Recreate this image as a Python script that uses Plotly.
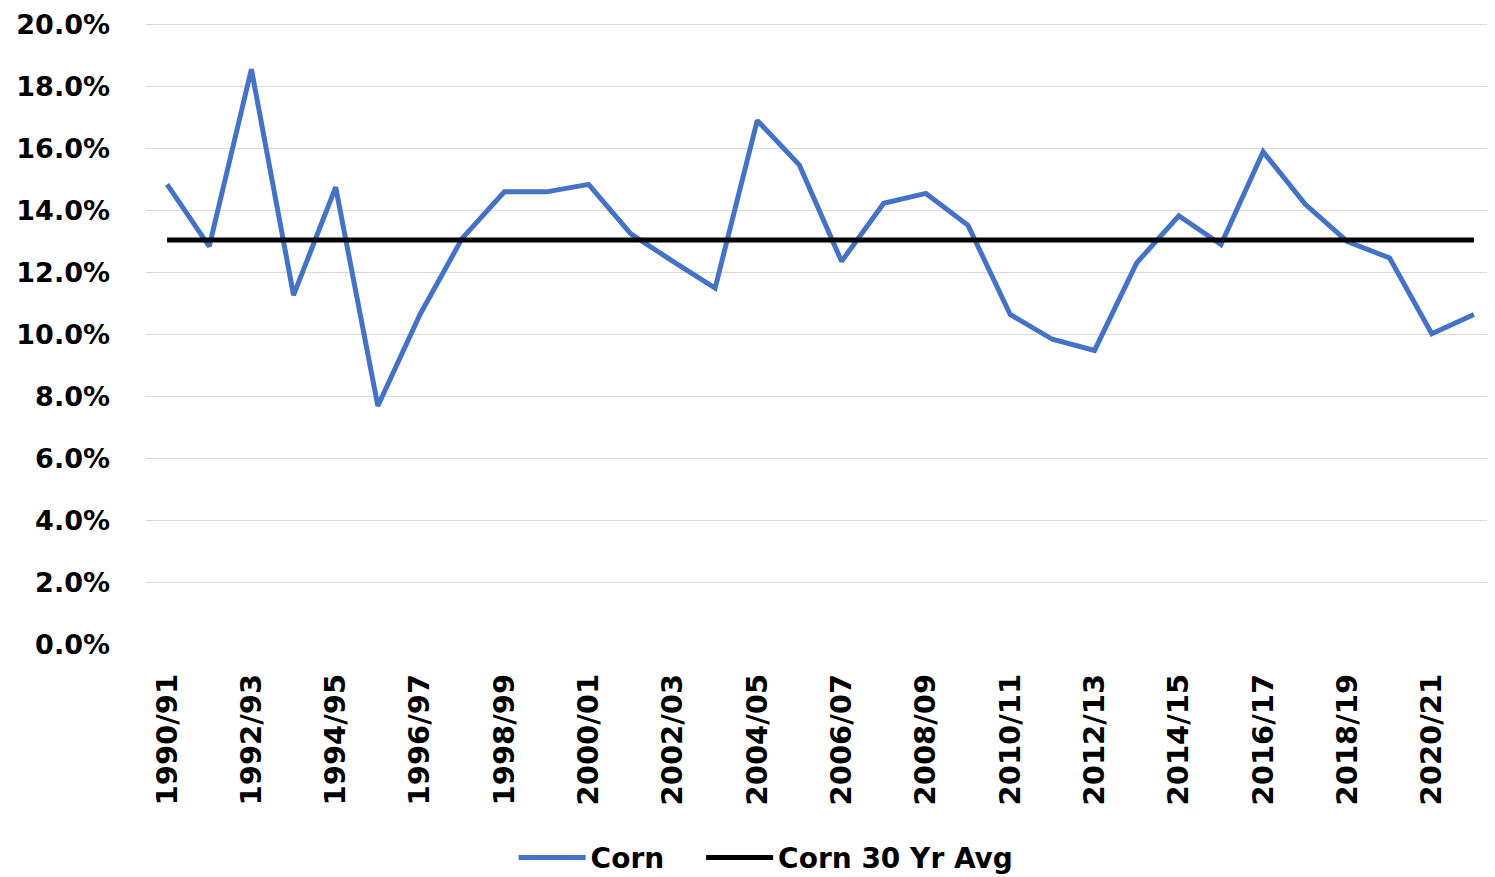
import plotly.graph_objects as go

years = ["1990/91", "1991/92", "1992/93", "1993/94", "1994/95", "1995/96", "1996/97", "1997/98",
         "1998/99", "1999/00", "2000/01", "2001/02", "2002/03", "2003/04", "2004/05", "2005/06",
         "2006/07", "2007/08", "2008/09", "2009/10", "2010/11", "2011/12", "2012/13", "2013/14",
         "2014/15", "2015/16", "2016/17", "2017/18", "2018/19", "2019/20", "2020/21", "2021/22"]

corn = [14.84, 12.84, 18.55, 11.27, 14.75, 7.70, 10.65, 13.10,
        14.60, 14.60, 14.84, 13.25, 12.36, 11.50, 16.90, 15.46,
        12.36, 14.23, 14.55, 13.52, 10.65, 9.85, 9.49, 12.31,
        13.83, 12.90, 15.89, 14.20, 13.00, 12.47, 10.03, 10.65]
corn = [v / 100 for v in corn]

avg_30yr = [0.1305] * len(years)

tick_labels = years[0::2]
y_ticks = [0.0, 0.02, 0.04, 0.06, 0.08, 0.10, 0.12, 0.14, 0.16, 0.18, 0.20]

font_family = "DejaVu Sans"
legend_font = dict(family=font_family, size=28, color="black", weight="bold")

fig = go.Figure()
fig.add_trace(go.Scatter(x=years, y=corn, mode="lines", name="Corn",
                         line=dict(color="#4472C4", width=5), legend="legend"))
fig.add_trace(go.Scatter(x=years, y=avg_30yr, mode="lines", name="Corn 30 Yr Avg",
                         line=dict(color="#000000", width=5), legend="legend2"))

# page body has an 8px default margin, so margins are shifted by 8px
fig.update_layout(
    width=1495, height=877,
    margin=dict(l=138, r=8, t=15, b=240, autoexpand=False),
    plot_bgcolor="white",
    paper_bgcolor="white",
    font=dict(family=font_family, size=27, color="black"),
    showlegend=True,
    legend=dict(orientation="h", x=0.2725, xanchor="left", y=-0.342, yanchor="middle",
                font=legend_font, itemwidth=67),
    legend2=dict(orientation="h", x=0.4115, xanchor="left", y=-0.342, yanchor="middle",
                 font=legend_font, itemwidth=67),
    xaxis=dict(type="category", range=[-0.5, 31.5], tickmode="array", tickvals=tick_labels,
               ticktext=tick_labels, tickangle=-90, showgrid=False, showline=False,
               ticks="", ticklabelstandoff=22, automargin=False,
               tickfont=dict(family=font_family, size=29, color="black", weight="bold")),
    yaxis=dict(range=[0, 0.2004], tickmode="array",
               tickvals=y_ticks, tickformat=".1%",
               showgrid=True, gridcolor="#D9D9D9", gridwidth=1, zeroline=False,
               showline=False, ticks="", ticklabelstandoff=35, automargin=False,
               ticklabeloverflow="allow",
               tickfont=dict(family=font_family, size=27, color="black", weight="bold")),
)

fig.write_html("out.html")
